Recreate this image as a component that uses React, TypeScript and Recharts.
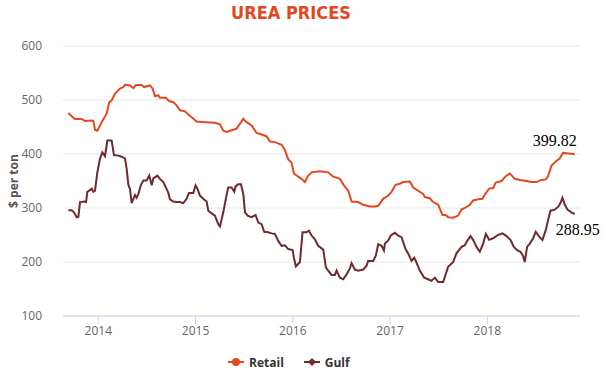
import React from 'react'
import {
  LineChart, Line, XAxis, YAxis, CartesianGrid, Legend,
} from 'recharts'

const title = 'UREA PRICES'
const yTicks = [100, 200, 300, 400, 500, 600]
const xTicks = [2014, 2015, 2016, 2017, 2018]

// decimal years
const retailYears = [
  2013.692, 2013.743, 2013.761, 2013.829, 2013.863, 2013.932, 2013.949, 2013.966, 2013.990, 2014.035,
  2014.086, 2014.113, 2014.137, 2014.172, 2014.223, 2014.257, 2014.274, 2014.326, 2014.360, 2014.387,
  2014.446, 2014.470, 2014.531, 2014.559, 2014.583, 2014.617, 2014.634, 2014.696, 2014.727, 2014.771,
  2014.805, 2014.840, 2014.891, 2014.925, 2014.960, 2015.011, 2015.097, 2015.199, 2015.251, 2015.285,
  2015.319, 2015.371, 2015.422, 2015.456, 2015.491, 2015.525, 2015.576, 2015.628, 2015.679, 2015.730,
  2015.765, 2015.816, 2015.885, 2015.919, 2015.953, 2015.987, 2016.011, 2016.056, 2016.090, 2016.124,
  2016.159, 2016.193, 2016.279, 2016.364, 2016.416, 2016.484, 2016.525, 2016.570, 2016.604, 2016.672,
  2016.724, 2016.792, 2016.844, 2016.878, 2016.929, 2016.981, 2017.015, 2017.056, 2017.101, 2017.135,
  2017.204, 2017.238, 2017.289, 2017.340, 2017.358, 2017.409, 2017.443, 2017.495, 2017.539, 2017.573,
  2017.597, 2017.649, 2017.700, 2017.735, 2017.769, 2017.820, 2017.854, 2017.906, 2017.950, 2017.974,
  2018.019, 2018.060, 2018.087, 2018.146, 2018.190, 2018.231, 2018.283, 2018.334, 2018.403, 2018.454,
  2018.506, 2018.557, 2018.601, 2018.625, 2018.659, 2018.704, 2018.745, 2018.779, 2018.831, 2018.899,
]
const retailValues = [
  476, 467, 465, 465, 461, 462, 461, 445, 443, 459,
  475, 496, 499, 512, 521, 524, 528, 527, 522, 528,
  528, 524, 527, 521, 507, 509, 504, 504, 498, 496,
  490, 481, 479, 473, 468, 460, 459, 458, 455, 443,
  441, 444, 447, 456, 465, 459, 453, 439, 436, 433,
  423, 422, 417, 407, 390, 384, 364, 358, 354, 348,
  360, 366, 368, 366, 358, 354, 342, 332, 312, 311,
  306, 303, 303, 304, 317, 323, 330, 343, 345, 348,
  349, 338, 332, 326, 320, 318, 311, 306, 287, 287,
  283, 282, 286, 297, 300, 306, 314, 316, 317, 325,
  336, 337, 347, 350, 359, 364, 354, 352, 350, 348,
  348, 352, 353, 359, 378, 386, 392, 402, 401, 399.82,
]

const gulfYears = [
  2013.692, 2013.726, 2013.750, 2013.778, 2013.795, 2013.812, 2013.863, 2013.874, 2013.887, 2013.915,
  2013.932, 2013.949, 2013.966, 2013.990, 2014.017, 2014.041, 2014.069, 2014.093, 2014.137, 2014.161,
  2014.206, 2014.240, 2014.274, 2014.292, 2014.309, 2014.326, 2014.343, 2014.377, 2014.394, 2014.411,
  2014.439, 2014.463, 2014.497, 2014.524, 2014.549, 2014.566, 2014.607, 2014.634, 2014.668, 2014.703,
  2014.720, 2014.737, 2014.771, 2014.805, 2014.840, 2014.874, 2014.908, 2014.932, 2014.977, 2015.001,
  2015.021, 2015.045, 2015.079, 2015.114, 2015.131, 2015.165, 2015.199, 2015.234, 2015.251, 2015.285,
  2015.319, 2015.336, 2015.371, 2015.398, 2015.412, 2015.439, 2015.467, 2015.491, 2015.508, 2015.535,
  2015.576, 2015.617, 2015.645, 2015.679, 2015.706, 2015.748, 2015.782, 2015.816, 2015.850, 2015.885,
  2015.919, 2015.953, 2015.998, 2016.011, 2016.032, 2016.073, 2016.100, 2016.141, 2016.165, 2016.193,
  2016.227, 2016.261, 2016.313, 2016.340, 2016.364, 2016.398, 2016.433, 2016.450, 2016.484, 2016.518,
  2016.553, 2016.587, 2016.604, 2016.638, 2016.672, 2016.724, 2016.758, 2016.775, 2016.827, 2016.854,
  2016.878, 2016.913, 2016.937, 2016.947, 2016.981, 2017.008, 2017.049, 2017.084, 2017.118, 2017.159,
  2017.186, 2017.221, 2017.248, 2017.272, 2017.306, 2017.351, 2017.392, 2017.426, 2017.460, 2017.495,
  2017.546, 2017.597, 2017.649, 2017.683, 2017.735, 2017.769, 2017.786, 2017.827, 2017.854, 2017.889,
  2017.923, 2017.957, 2017.985, 2018.019, 2018.060, 2018.111, 2018.156, 2018.197, 2018.238, 2018.272,
  2018.307, 2018.341, 2018.368, 2018.385, 2018.409, 2018.437, 2018.471, 2018.498, 2018.533, 2018.567,
  2018.601, 2018.625, 2018.649, 2018.694, 2018.728, 2018.752, 2018.773, 2018.797, 2018.824, 2018.848,
  2018.872, 2018.899,
]
const gulfValues = [
  296, 296, 292, 283, 284, 311, 312, 311, 330, 333,
  336, 330, 332, 366, 391, 403, 396, 425, 425, 398,
  397, 395, 392, 372, 343, 335, 309, 324, 319, 325,
  343, 351, 351, 360, 342, 355, 360, 354, 348, 335,
  328, 316, 312, 311, 311, 309, 317, 328, 328, 342,
  335, 323, 317, 312, 295, 290, 286, 270, 266, 292,
  324, 338, 338, 330, 340, 344, 344, 326, 292, 286,
  283, 287, 273, 270, 256, 255, 253, 252, 239, 230,
  231, 224, 222, 208, 192, 200, 255, 255, 258, 249,
  242, 230, 223, 190, 184, 176, 176, 184, 171, 168,
  177, 188, 198, 186, 184, 186, 193, 202, 202, 212,
  233, 230, 221, 234, 240, 249, 254, 249, 246, 224,
  216, 202, 208, 199, 184, 171, 168, 165, 171, 163,
  163, 191, 200, 216, 228, 231, 237, 248, 241, 228,
  219, 234, 252, 241, 244, 250, 253, 248, 241, 228,
  222, 219, 211, 200, 228, 234, 244, 256, 247, 241,
  259, 278, 295, 297, 302, 309, 319, 306, 297, 294,
  291, 288.95,
]

const RETAIL = '#e2481f'
const GULF = '#6d2b2d'

const retailData = retailYears.map((t, i) => ({ t, value: retailValues[i] }))
const gulfData = gulfYears.map((t, i) => ({ t, value: gulfValues[i] }))

const axisFont = { fill: '#666666', fontSize: 12, fontFamily: '"Open Sans", sans-serif' }
const serif = '"Liberation Serif", "DejaVu Serif", serif'

function endLabel(lastIndex: number, dx: number, dy: number, anchor: string) {
  return (props: any) => {
    if (props.index !== lastIndex) return null
    return (
      <text
        x={props.x + dx}
        y={props.y + dy}
        textAnchor={anchor}
        fill="#000"
        fontSize={16}
        fontFamily={serif}
        style={{ fontFamily: serif, fontSize: 16 }}
      >
        {props.value}
      </text>
    )
  }
}

function LegendBox() {
  return (
    <div style={{
      display: 'flex', alignItems: 'center', height: 20, paddingLeft: 228,
      fontFamily: '"Open Sans", sans-serif', fontSize: 12, fontWeight: 700, color: '#333',
    }}>
      <svg width={16} height={10} style={{ marginRight: 5 }}>
        <line x1={0} y1={5} x2={16} y2={5} stroke={RETAIL} strokeWidth={2} />
        <circle cx={8} cy={5} r={4} fill={RETAIL} />
      </svg>
      <span style={{ marginRight: 20 }}>Retail</span>
      <svg width={16} height={10} style={{ marginRight: 5 }}>
        <line x1={0} y1={5} x2={16} y2={5} stroke={GULF} strokeWidth={2} />
        <path d="M8 1 L12 5 L8 9 L4 5 Z" fill={GULF} />
      </svg>
      <span>Gulf</span>
    </div>
  )
}

export default function App() {
  return (
    <div style={{ position: 'absolute', left: 0, top: 0, width: 604, height: 372, background: '#fff' }}>
      <div style={{
        position: 'absolute', left: 0, top: 2, width: 582, textAlign: 'center',
        color: RETAIL, fontSize: 18, fontWeight: 700,
        fontFamily: '"Liberation Sans Narrow", "DejaVu Sans Condensed", sans-serif',
      }}>
        {title}
      </div>
      <LineChart width={604} height={372} margin={{ top: 46, right: 24, left: 0, bottom: 6 }}>
        <CartesianGrid vertical={false} stroke="#e6e6e6" />
        <XAxis
          dataKey="t"
          type="number"
          domain={[2013.637, 2018.953]}
          ticks={xTicks}
          allowDataOverflow
          height={30}
          stroke="#ccd6eb"
          tickSize={8}
          tickMargin={2}
          tick={axisFont}
        />
        <YAxis
          type="number"
          domain={[100, 600]}
          ticks={yTicks}
          width={63}
          axisLine={false}
          tickLine={false}
          tickMargin={15}
          tick={axisFont}
          label={(p: any) => {
            const vb = p.viewBox
            const cx = 13
            const cy = vb.y + vb.height / 2
            return (
              <text
                x={cx} y={cy} transform={`rotate(-90 ${cx} ${cy})`}
                textAnchor="middle" dominantBaseline="central"
                fill="#555" fontSize={12} fontWeight={700}
                fontFamily='"Open Sans", sans-serif'
              >
                $ per ton
              </text>
            )
          }}
        />
        <Legend verticalAlign="bottom" height={20} wrapperStyle={{ bottom: 0 }} content={() => <LegendBox />} />
        <Line
          data={retailData}
          dataKey="value"
          name="Retail"
          type="linear"
          stroke={RETAIL}
          strokeWidth={2}
          dot={false}
          isAnimationActive={false}
          label={endLabel(retailData.length - 1, 2, -8, 'end')}
        />
        <Line
          data={gulfData}
          dataKey="value"
          name="Gulf"
          type="linear"
          stroke={GULF}
          strokeWidth={2}
          dot={false}
          isAnimationActive={false}
          label={endLabel(gulfData.length - 1, -19, 21, 'start')}
        />
      </LineChart>
    </div>
  )
}
